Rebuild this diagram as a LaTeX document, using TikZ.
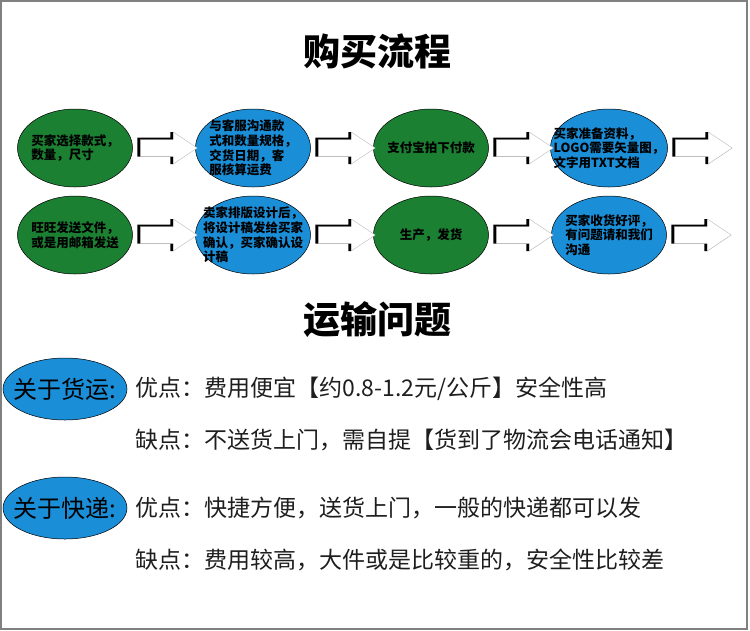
\documentclass[tikz,border=0pt]{standalone}
\usepackage{fontspec}
\usepackage{tikz}
\usetikzlibrary{positioning,shapes.geometric}
\newfontfamily\cjk{Noto Sans CJK SC}
\definecolor{flowgreen}{RGB}{28,128,50}
\definecolor{flowblue}{RGB}{27,142,216}
\definecolor{bodytext}{RGB}{30,30,30}
\tikzstyle{greenbox} = [ellipse, draw=black, line width=0.5pt, fill=flowgreen, minimum width=115pt, minimum height=78pt, inner xsep=-14pt, inner ysep=-6pt, align=left, text=black, font=\cjk\bfseries\fontsize{12.5}{14.7}\selectfont]
\tikzstyle{bluebox} = [greenbox, fill=flowblue]
\tikzstyle{tagbox} = [ellipse, draw=black, line width=0.5pt, fill=flowblue, minimum width=124pt, minimum height=62pt, inner xsep=-10pt, inner ysep=0pt, text=black, font=\cjk\fontsize{24}{26}\selectfont]
\tikzstyle{infoline} = [anchor=west, inner sep=0pt, text=bodytext, font=\cjk\fontsize{23}{26}\selectfont]
\tikzstyle{heading} = [font=\cjk\bfseries\fontsize{37}{40}\selectfont]
\tikzset{flowarrow/.pic={
  \fill[black] (-3,-10.5) -- (30,-10.5) -- (30,-16) -- (33,-16) -- (33,16) -- (30,16) -- (30,8.5) -- (-3,8.5) -- cycle;
  \filldraw[fill=white, draw=gray!60, line width=0.4pt] (0,-8.5) -- (33,-8.5) -- (33,-16) -- (57,0) -- (33,16) -- (33,8.5) -- (0,8.5) -- cycle;
}}

\begin{document}
\begin{tikzpicture}[x=1pt, y=-1pt, node distance=178pt]
\useasboundingbox (0,0) rectangle (750,630);
\draw[gray, line width=1.5pt] (1,1) rectangle (747,629);

% buying steps
\node (buytitle) [heading] at (377,51) {购买流程};
\node (e1) [greenbox] at (75,148) {买家选择款式，\\数量，尺寸};
\node (e2) [bluebox, right of=e1] {与客服沟通款\\式和数量规格，\\交货日期，客\\服核算运费};
\node (e3) [greenbox, right of=e2] {支付宝拍下付款};
\node (e4) [bluebox, right of=e3] {买家准备资料，\\LOGO需要矢量图，\\文字用TXT文档};
\node (e5) [greenbox, below of=e1, node distance=87pt] {旺旺发送文件，\\或是用邮箱发送};
\node (e6) [bluebox, right of=e5] {卖家排版设计后，\\将设计稿发给买家\\确认，买家确认设\\计稿};
\node (e7) [greenbox, right of=e6] {生产，发货};
\node (e8) [bluebox, right of=e7] {买家收货好评，\\有问题请和我们\\沟通};
\foreach \n in {e1,e2,e3,e4,e5,e6,e7,e8}
  \pic at ([xshift=7.5pt]\n.east) {flowarrow};

% shipping
\node (shiptitle) [heading] at (377,320) {运输问题};
\node (freight) [tagbox] at (65,389) {关于货运:};
\node (fpro) [infoline, right=8pt of freight] {优点：费用便宜【约0.8-1.2元/公斤】安全性高};
\node (fcon) [infoline] at (135,440) {缺点：不送货上门，需自提【货到了物流会电话通知】};
\node (express) [tagbox] at (65,508) {关于快递:};
\node (epro) [infoline, right=8pt of express] {优点：快捷方便，送货上门，一般的快递都可以发};
\node (econ) [infoline] at (135,560) {缺点：费用较高，大件或是比较重的，安全性比较差};
\end{tikzpicture}
\end{document}
